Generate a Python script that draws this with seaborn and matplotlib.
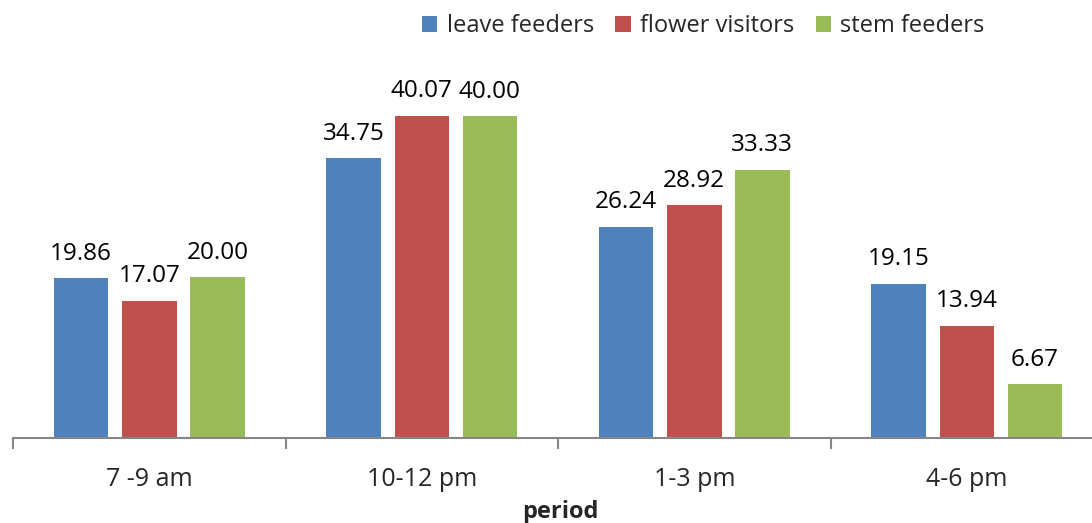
import pandas as pd
import numpy as np
import matplotlib
matplotlib.use("Agg")
import matplotlib.pyplot as plt
import seaborn as sns

periods = ["7 -9 am", "10-12 pm", "1-3 pm", "4-6 pm"]
groups = ["leave feeders", "flower visitors", "stem feeders"]
leave_feeders = [19.86, 34.75, 26.24, 19.15]
flower_visitors = [17.07, 40.07, 28.92, 13.94]
stem_feeders = [20.00, 40.00, 33.33, 6.67]
colors = ["#4F81BD", "#C0504D", "#9BBB59"]

df = pd.DataFrame({
    "period": periods * 3,
    "group": [g for g in groups for _ in periods],
    "value": leave_feeders + flower_visitors + stem_feeders,
})

sns.set_style("white")
plt.rcParams["font.family"] = ["Open Sans", "DejaVu Sans"]

fig = plt.figure(figsize=(10.92, 5.23), dpi=100)
ax = fig.add_axes([13 / 1092, 85 / 523, 1090 / 1092, 362 / 523])

sns.barplot(data=df, x="period", y="value", hue="group", palette=colors,
            width=0.75, gap=0.2, saturation=1, linewidth=0, edgecolor="none",
            ax=ax, legend=True)

for cont in ax.containers:
    ax.bar_label(cont, fmt="%.2f", padding=9, fontsize=17.5, color="#000000")

ax.set_xlim(-0.5, 3.5)
ax.set_ylim(0, 45)
ax.set_yticks([])
ax.set_ylabel("")
ax.set_xlabel("period", fontsize=17, fontweight="bold")
ax.xaxis.set_label_coords(0.502, -0.172)
for s in ["top", "right", "left"]:
    ax.spines[s].set_visible(False)
ax.spines["bottom"].set_color("#868686")
ax.spines["bottom"].set_linewidth(1.5)

ax.set_xticks(np.arange(-0.5, 4, 1), minor=True)
ax.tick_params(axis="x", which="minor", bottom=True, length=8, width=1.5,
               color="#868686")
ax.tick_params(axis="x", which="major", length=0, labelsize=18, pad=21)

leg = ax.legend(loc="upper right", bbox_to_anchor=(993 / 1090, 1.23),
                ncol=3, frameon=False, fontsize=17, handlelength=0.65,
                handleheight=0.65, handletextpad=0.4, columnspacing=0.9)

fig.savefig("out.png", dpi=100)
